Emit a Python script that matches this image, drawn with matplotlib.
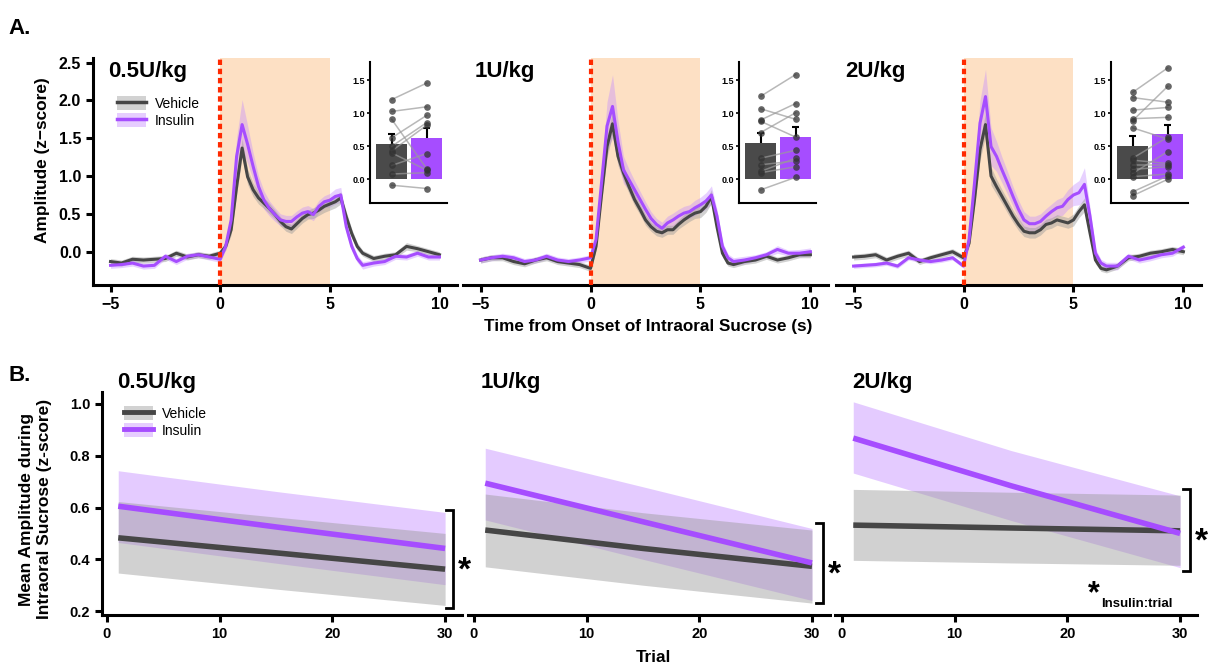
import matplotlib
matplotlib.use('Agg')
import matplotlib.pyplot as plt
from matplotlib.patches import Patch
from matplotlib.lines import Line2D

plt.rcParams['font.family'] = ['Liberation Sans', 'DejaVu Sans']
plt.rcParams['font.weight'] = 'bold'
plt.rcParams['axes.labelweight'] = 'bold'

W, H = 1208, 665

# ---------------- data: panel A (photometry traces) ----------------
time_s = [-5, -4.5, -4, -3.5, -3, -2.5, -2, -1.5, -1, -0.5, 0,
          0.25, 0.5, 0.75, 1, 1.25, 1.5, 1.75, 2, 2.25, 2.5, 2.75, 3, 3.25,
          3.5, 3.75, 4, 4.25, 4.5, 4.75, 5, 5.25, 5.5, 5.75, 6, 6.25, 6.5,
          7, 7.5, 8, 8.5, 9, 9.5, 10]

doses = ['0.5U/kg', '1U/kg', '2U/kg']

veh_trace = [
    [-0.13, -0.15, -0.10, -0.11, -0.10, -0.09, -0.02, -0.07, -0.04, -0.06, -0.02,
     0.07, 0.29, 0.86, 1.37, 0.99, 0.82, 0.71, 0.64, 0.57, 0.49, 0.40, 0.33, 0.30,
     0.37, 0.44, 0.49, 0.51, 0.55, 0.60, 0.63, 0.66, 0.71, 0.46, 0.24, 0.07, -0.02,
     -0.09, -0.06, -0.04, 0.07, 0.04, 0.00, -0.04],
    [-0.11, -0.08, -0.08, -0.13, -0.16, -0.11, -0.08, -0.13, -0.15, -0.17, -0.22,
     0.07, 0.75, 1.39, 1.69, 1.26, 1.04, 0.86, 0.69, 0.56, 0.42, 0.33, 0.27, 0.25,
     0.29, 0.29, 0.36, 0.42, 0.47, 0.51, 0.53, 0.60, 0.73, 0.33, -0.02, -0.15, -0.17,
     -0.13, -0.11, -0.06, -0.11, -0.08, -0.04, -0.04],
    [-0.07, -0.06, -0.04, -0.11, -0.06, -0.02, -0.13, -0.08, -0.04, 0.00, -0.08,
     0.11, 0.69, 1.35, 1.68, 1.00, 0.86, 0.73, 0.60, 0.47, 0.36, 0.27, 0.25, 0.25,
     0.29, 0.36, 0.38, 0.42, 0.40, 0.38, 0.42, 0.53, 0.62, 0.25, -0.11, -0.22, -0.24,
     -0.19, -0.08, -0.06, -0.02, 0.00, 0.03, 0.00],
]
veh_sem = [
    [0.04, 0.04, 0.04, 0.04, 0.04, 0.04, 0.04, 0.04, 0.04, 0.04, 0.04,
     0.05, 0.07, 0.10, 0.12, 0.10, 0.09, 0.08, 0.07, 0.07, 0.06, 0.06, 0.06, 0.06,
     0.06, 0.06, 0.06, 0.07, 0.07, 0.08, 0.08, 0.08, 0.08, 0.07, 0.06, 0.05, 0.04,
     0.04, 0.04, 0.04, 0.05, 0.04, 0.04, 0.04],
    [0.04, 0.04, 0.04, 0.04, 0.04, 0.04, 0.04, 0.04, 0.04, 0.04, 0.04,
     0.05, 0.09, 0.14, 0.15, 0.12, 0.10, 0.09, 0.08, 0.07, 0.07, 0.06, 0.06, 0.06,
     0.06, 0.06, 0.06, 0.07, 0.07, 0.07, 0.08, 0.08, 0.09, 0.07, 0.05, 0.04, 0.04,
     0.04, 0.04, 0.04, 0.04, 0.04, 0.04, 0.04],
    [0.04, 0.04, 0.04, 0.04, 0.04, 0.04, 0.04, 0.04, 0.04, 0.04, 0.04,
     0.05, 0.09, 0.14, 0.15, 0.12, 0.10, 0.09, 0.09, 0.08, 0.08, 0.07, 0.07, 0.07,
     0.07, 0.07, 0.07, 0.07, 0.07, 0.07, 0.08, 0.08, 0.09, 0.07, 0.05, 0.04, 0.04,
     0.04, 0.04, 0.04, 0.04, 0.04, 0.04, 0.04],
]
ins_trace = [
    [-0.18, -0.17, -0.15, -0.19, -0.18, -0.06, -0.13, -0.06, -0.04, -0.07, -0.10,
     0.07, 0.42, 1.26, 1.68, 1.42, 1.13, 0.86, 0.68, 0.57, 0.49, 0.42, 0.40, 0.40,
     0.46, 0.51, 0.53, 0.49, 0.60, 0.66, 0.68, 0.73, 0.75, 0.33, 0.07, -0.09, -0.18,
     -0.15, -0.13, -0.06, -0.07, -0.02, -0.07, -0.07],
    [-0.11, -0.08, -0.06, -0.08, -0.13, -0.11, -0.06, -0.11, -0.13, -0.11, -0.08,
     0.16, 0.91, 1.66, 1.92, 1.45, 1.08, 0.95, 0.82, 0.69, 0.56, 0.44, 0.36, 0.31,
     0.38, 0.42, 0.47, 0.51, 0.53, 0.58, 0.62, 0.67, 0.75, 0.47, 0.07, -0.08, -0.13,
     -0.11, -0.08, -0.04, 0.03, -0.02, -0.02, 0.00],
    [-0.19, -0.18, -0.17, -0.15, -0.19, -0.08, -0.11, -0.13, -0.11, -0.08, -0.19,
     0.16, 0.91, 1.70, 2.05, 1.39, 1.26, 1.08, 0.91, 0.73, 0.56, 0.42, 0.37, 0.37,
     0.40, 0.47, 0.53, 0.58, 0.60, 0.69, 0.75, 0.78, 0.89, 0.47, -0.02, -0.15, -0.19,
     -0.19, -0.06, -0.11, -0.08, -0.04, -0.02, 0.06],
]
ins_sem = [
    [0.04, 0.04, 0.04, 0.04, 0.04, 0.04, 0.04, 0.04, 0.04, 0.04, 0.04,
     0.05, 0.10, 0.25, 0.33, 0.25, 0.18, 0.14, 0.12, 0.10, 0.09, 0.08, 0.08, 0.08,
     0.08, 0.08, 0.08, 0.08, 0.08, 0.08, 0.09, 0.10, 0.10, 0.08, 0.06, 0.05, 0.05,
     0.04, 0.04, 0.04, 0.04, 0.04, 0.04, 0.04],
    [0.04, 0.04, 0.04, 0.04, 0.04, 0.04, 0.04, 0.04, 0.04, 0.04, 0.04,
     0.06, 0.15, 0.32, 0.42, 0.28, 0.18, 0.14, 0.12, 0.11, 0.10, 0.09, 0.08, 0.08,
     0.09, 0.09, 0.09, 0.09, 0.09, 0.10, 0.10, 0.11, 0.12, 0.09, 0.06, 0.05, 0.05,
     0.05, 0.04, 0.04, 0.05, 0.04, 0.05, 0.05],
    [0.03, 0.03, 0.03, 0.03, 0.03, 0.03, 0.03, 0.03, 0.03, 0.03, 0.03,
     0.06, 0.15, 0.30, 0.36, 0.25, 0.20, 0.17, 0.15, 0.13, 0.12, 0.11, 0.10, 0.10,
     0.10, 0.10, 0.10, 0.11, 0.12, 0.13, 0.14, 0.16, 0.22, 0.12, 0.06, 0.05, 0.05,
     0.05, 0.04, 0.04, 0.04, 0.04, 0.04, 0.04],
]

# inset bar plots: per-animal mean amplitude (paired vehicle -> insulin)
inset_veh_pts = [
    [1.21, 1.03, 0.91, 0.63, 0.50, 0.43, 0.40, 0.21, 0.08, -0.09],
    [1.26, 1.07, 0.90, 0.88, 0.71, 0.32, 0.22, 0.12, 0.10, -0.16],
    [1.32, 1.24, 1.05, 0.92, 0.89, 0.78, 0.32, 0.29, 0.22, 0.15, 0.09, 0.04, -0.19, -0.25],
]
inset_ins_pts = [
    [1.46, 1.10, 0.16, 0.97, 0.86, 0.82, 0.14, 0.39, 0.10, -0.14],
    [1.59, 0.91, 1.15, 0.64, 1.01, 0.44, 0.28, 0.32, 0.19, 0.03],
    [1.69, 1.17, 1.09, 0.94, 1.41, 0.61, 0.64, 0.24, 0.22, 0.19, 0.42, 0.08, 0.05, 0.00],
]
inset_means = [[0.54, 0.63], [0.55, 0.64], [0.51, 0.68]]
inset_sems = [[0.14, 0.15], [0.15, 0.16], [0.14, 0.14]]

# ---------------- data: panel B (model fits over trials) ----------------
trial = [1, 15, 30]
veh_fit = [[0.483, 0.425, 0.362], [0.513, 0.442, 0.373], [0.532, 0.521, 0.510]]
veh_lo = [[0.347, 0.285, 0.222], [0.371, 0.300, 0.231], [0.396, 0.386, 0.377]]
veh_hi = [[0.623, 0.563, 0.500], [0.652, 0.580, 0.513], [0.670, 0.659, 0.648]]
ins_fit = [[0.605, 0.525, 0.442], [0.694, 0.545, 0.386], [0.868, 0.684, 0.500]]
ins_lo = [[0.465, 0.385, 0.302], [0.552, 0.400, 0.241], [0.733, 0.550, 0.368]]
ins_hi = [[0.742, 0.662, 0.581], [0.829, 0.680, 0.519], [1.008, 0.820, 0.645]]

VEH = '#464646'
INS = '#a64dff'
VEH_BAND = '#9a9a9a'
INS_BAND = '#c58cff'


def fx(px):
    return px / W


def fy(py):
    return 1 - py / H


fig = plt.figure(figsize=(W / 100, H / 100), dpi=100)

# ---------------- panel A ----------------
a_left = [93, 463, 836]
a_right = [457, 828, 1201]
inset_left = [370, 739, 1111]
title_x = [108, 475, 845]
for i in range(3):
    ax = fig.add_axes([fx(a_left[i]), fy(285), (a_right[i] - a_left[i]) / W, (285 - 58) / H])
    ax.patch.set_alpha(0)
    ax.axvspan(0, 5, color='#fde0c4', lw=0, zorder=0)
    lo_i = [m - s for m, s in zip(ins_trace[i], ins_sem[i])]
    hi_i = [m + s for m, s in zip(ins_trace[i], ins_sem[i])]
    lo_v = [m - s for m, s in zip(veh_trace[i], veh_sem[i])]
    hi_v = [m + s for m, s in zip(veh_trace[i], veh_sem[i])]
    ax.fill_between(time_s, lo_i, hi_i, color=INS_BAND, alpha=0.4, lw=0, zorder=1)
    ax.fill_between(time_s, lo_v, hi_v, color=VEH_BAND, alpha=0.45, lw=0, zorder=2)
    ax.plot(time_s, veh_trace[i], color=VEH, lw=2.2, zorder=3)
    ax.plot(time_s, ins_trace[i], color=INS, lw=2.2, zorder=4)
    ax.axvline(0, color='#ff2a00', lw=3, ls=(0, (1.3, 0.9)), zorder=5)
    ax.set_xlim(-5.8, 10.8)
    ax.set_ylim(-0.44, 2.56)
    ax.set_xticks([-5, 0, 5, 10])
    ax.set_yticks([0, 0.5, 1.0, 1.5, 2.0, 2.5])
    ax.set_yticklabels(['0.0', '0.5', '1.0', '1.5', '2.0', '2.5'])
    for s in ['top', 'right']:
        ax.spines[s].set_visible(False)
    ax.spines['bottom'].set_linewidth(2.2)
    ax.spines['left'].set_linewidth(2.2)
    ax.tick_params(width=2.2, length=5, labelsize=11.5)
    if i > 0:
        ax.spines['left'].set_visible(False)
        ax.tick_params(axis='y', left=False, labelleft=False)
    fig.text(fx(title_x[i]), fy(77), doses[i], fontsize=16, fontweight='bold', va='baseline')

    # inset
    ia = fig.add_axes([fx(inset_left[i]), fy(203), 77 / W, (203 - 62) / H])
    ia.patch.set_alpha(0)
    ia.bar([0, 1], inset_means[i], width=0.87, color=['#4a4a4a', '#a64dff'], zorder=1)
    for x, m, s in zip([0, 1], inset_means[i], inset_sems[i]):
        ia.vlines(x, m, m + s, color='black', lw=1.5, zorder=2)
        ia.hlines(m + s, x - 0.1, x + 0.1, color='black', lw=1.5, zorder=2)
    for yv, yi in zip(inset_veh_pts[i], inset_ins_pts[i]):
        ia.plot([0, 1], [yv, yi], color='#9a9a9a', lw=1.1, alpha=0.7, zorder=3)
    ia.plot([0] * len(inset_veh_pts[i]), inset_veh_pts[i], 'o', ms=4.8, color='#333333', alpha=0.75, mew=0, zorder=4)
    ia.plot([1] * len(inset_ins_pts[i]), inset_ins_pts[i], 'o', ms=4.8, color='#333333', alpha=0.75, mew=0, zorder=4)
    ia.set_xlim(-0.62, 1.58)
    ia.set_ylim(-0.36, 1.78)
    ia.set_xticks([])
    ia.set_yticks([0, 0.5, 1.0, 1.5])
    ia.set_yticklabels(['0.0', '0.5', '1.0', '1.5'])
    ia.tick_params(axis='y', labelsize=6.5, length=2.5, width=1.2, pad=1)
    for s in ['top', 'right']:
        ia.spines[s].set_visible(False)
    ia.spines['left'].set_linewidth(1.5)
    ia.spines['bottom'].set_linewidth(1.5)

fig.text(fx(43), fy(160), 'Amplitude (z\u2212score)', rotation=90, fontsize=12.4,
         fontweight='bold', ha='center', va='center')
fig.text(fx(648), fy(327), 'Time from Onset of Intraoral Sucrose (s)', fontsize=12.3,
         fontweight='bold', ha='center', va='center')
fig.text(fx(8), fy(34), 'A.', fontsize=16, fontweight='bold', va='baseline')


def add_legend(px, py, lw):
    hv = (Patch(facecolor='#d2d2d2', edgecolor='none'), Line2D([], [], color=VEH, lw=lw))
    hi = (Patch(facecolor='#e6cdff', edgecolor='none'), Line2D([], [], color=INS, lw=lw))
    fig.legend([hv, hi], ['Vehicle', 'Insulin'], loc='upper left',
               bbox_to_anchor=(fx(px), fy(py)), bbox_transform=fig.transFigure,
               frameon=False, borderpad=0, handlelength=2.1, handleheight=1.15,
               handletextpad=0.65, labelspacing=0.2,
               prop={'size': 10, 'weight': 'normal'})


add_legend(110, 89, 2.5)

# ---------------- panel B ----------------
b_left = [102, 468, 835]
b_right = [462, 830, 1197]
b_xlim = [(-0.44, 31.5), (-0.53, 31.6), (-0.62, 31.5)]
btitle_x = [117, 481, 852]
bracket = [(30.7, 0.212, 0.590), (31.0, 0.23, 0.54), (30.9, 0.355, 0.672)]
for i in range(3):
    ax = fig.add_axes([fx(b_left[i]), fy(615), (b_right[i] - b_left[i]) / W, (615 - 392) / H])
    ax.patch.set_alpha(0)
    ax.fill_between(trial, ins_lo[i], ins_hi[i], color=INS_BAND, alpha=0.45, lw=0, zorder=1)
    ax.fill_between(trial, veh_lo[i], veh_hi[i], color=VEH_BAND, alpha=0.45, lw=0, zorder=2)
    ax.plot(trial, veh_fit[i], color=VEH, lw=4, zorder=3, solid_capstyle='butt')
    ax.plot(trial, ins_fit[i], color=INS, lw=4, zorder=4, solid_capstyle='butt')
    ax.set_xlim(*b_xlim[i])
    ax.set_ylim(0.185, 1.046)
    ax.set_xticks([0, 10, 20, 30])
    ax.set_yticks([0.2, 0.4, 0.6, 0.8, 1.0])
    ax.set_yticklabels(['0.2', '0.4', '0.6', '0.8', '1.0'])
    for s in ['top', 'right']:
        ax.spines[s].set_visible(False)
    ax.spines['bottom'].set_linewidth(2.2)
    ax.spines['left'].set_linewidth(2.2)
    ax.tick_params(width=2.2, length=5, labelsize=10.5)
    if i > 0:
        ax.spines['left'].set_visible(False)
        ax.tick_params(axis='y', left=False, labelleft=False)
    bx, by0, by1 = bracket[i]
    ax.plot([bx - 0.6, bx, bx, bx - 0.6], [by0, by0, by1, by1], color='black', lw=2,
            clip_on=False, solid_joinstyle='miter')
    ax.text(bx + 0.4, (by0 + by1) / 2 - 0.045, '*', fontsize=24, fontweight='bold',
            ha='left', va='center', clip_on=False)
    fig.text(fx(btitle_x[i]), fy(388), doses[i], fontsize=16, fontweight='bold', va='baseline')
    if i == 2:
        ax.text(21.8, 0.265, '*', fontsize=22, fontweight='bold', ha='left', va='center')
        ax.text(23.0, 0.228, 'Insulin:trial', fontsize=9.5, fontweight='bold', ha='left', va='center')

fig.text(fx(36), fy(509), 'Mean Amplitude during\nIntraoral Sucrose (z-score)', rotation=90,
         fontsize=12.5, fontweight='bold', ha='center', va='center', multialignment='center',
         linespacing=1.25)
fig.text(fx(653), fy(657), 'Trial', fontsize=12.3, fontweight='bold', ha='center', va='center')
fig.text(fx(8), fy(381), 'B.', fontsize=16, fontweight='bold', va='baseline')

add_legend(117, 399, 3.5)

fig.savefig('out.png', dpi=100)
